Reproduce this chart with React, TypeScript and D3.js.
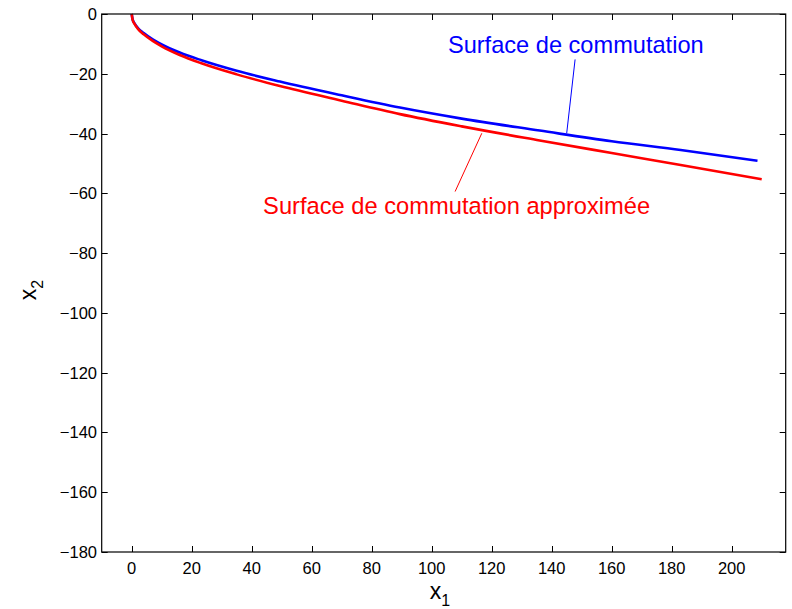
import React, { useRef, useEffect } from "react";
import * as d3 from "d3";

const blueX = [0, 0.3, 1, 2, 4, 7, 10, 16, 23, 35, 49.4, 70, 89.4, 110, 136, 160, 183, 208.6];
const blueY = [0, -1.8, -3.2, -4.6, -6.4, -8.5, -10.2, -12.9, -15.4, -19.0, -22.6, -27.2, -31.3, -35.0, -39.0, -42.6, -45.5, -49.1];
const redX = [0, 0.3, 1, 2, 4, 7, 10, 16, 23, 35, 49.4, 70, 89.4, 110, 136, 160, 183, 210];
const redY = [0, -1.9, -3.4, -4.9, -6.8, -9.0, -10.8, -13.7, -16.4, -20.2, -24.1, -29.0, -33.5, -37.6, -42.3, -46.5, -50.5, -55.3];

const xTicks = [0, 20, 40, 60, 80, 100, 120, 140, 160, 180, 200];
const yTicks = [0, -20, -40, -60, -80, -100, -120, -140, -160, -180];

const blueLabel = "Surface de commutation";
const redLabel = "Surface de commutation approximée";

const W = 792;
const H = 609;
const FONT = "'Liberation Sans', Arial, Helvetica, sans-serif";

export default function App() {
  const svgRef = useRef<SVGSVGElement>(null);

  useEffect(() => {
    const svg = d3.select(svgRef.current);
    svg.selectAll("*").remove();

    const left = 101.7, right = 785.7, top = 14, bottom = 552;
    const x = d3.scaleLinear().domain([-10, 218]).range([left, right]);
    const y = d3.scaleLinear().domain([-180, 0]).range([bottom, top]);

    svg.append("rect").attr("width", W).attr("height", H).attr("fill", "#fff");

    // ticks (inward, on all four sides like matlab's box)
    const tl = 6;
    const g = svg.append("g").attr("stroke", "#000").attr("stroke-width", 1);
    xTicks.forEach((t) => {
      const px = Math.round(x(t)) + 0.5;
      g.append("line").attr("x1", px).attr("x2", px).attr("y1", bottom).attr("y2", bottom - tl);
      g.append("line").attr("x1", px).attr("x2", px).attr("y1", top).attr("y2", top + tl);
    });
    yTicks.forEach((t) => {
      const py = Math.round(y(t)) + 0.5;
      g.append("line").attr("x1", left).attr("x2", left + tl).attr("y1", py).attr("y2", py);
      g.append("line").attr("x1", right).attr("x2", right - tl).attr("y1", py).attr("y2", py);
    });

    // tick labels
    svg
      .append("g")
      .selectAll("text")
      .data(xTicks)
      .enter()
      .append("text")
      .attr("x", (d) => x(d))
      .attr("y", 574)
      .attr("text-anchor", "middle")
      .attr("font-family", FONT)
      .attr("font-size", 16.5)
      .text((d) => String(d));

    svg
      .append("g")
      .selectAll("text")
      .data(yTicks)
      .enter()
      .append("text")
      .attr("x", 97)
      .attr("y", (d) => y(d) + 6)
      .attr("text-anchor", "end")
      .attr("font-family", FONT)
      .attr("font-size", 16.5)
      .text((d) => (d < 0 ? "\u2212" + Math.abs(d) : String(d)));

    // curves
    const line = d3
      .line<[number, number]>()
      .x((d) => x(d[0]))
      .y((d) => y(d[1]))
      .curve(d3.curveMonotoneX);

    const blue = blueX.map((v, i) => [v, blueY[i]] as [number, number]);
    const red = redX.map((v, i) => [v, redY[i]] as [number, number]);

    svg.append("path").attr("d", line(blue)).attr("fill", "none").attr("stroke", "#0000ff").attr("stroke-width", 2.6);
    svg.append("path").attr("d", line(red)).attr("fill", "none").attr("stroke", "#ff0000").attr("stroke-width", 2.6);

    // annotations
    svg.append("line")
      .attr("x1", x(147.8)).attr("y1", y(-15.2))
      .attr("x2", x(145)).attr("y2", y(-39.9))
      .attr("stroke", "#0000ff").attr("stroke-width", 1);
    svg.append("line")
      .attr("x1", x(116.7)).attr("y1", y(-39.9))
      .attr("x2", x(107.8)).attr("y2", y(-59.4))
      .attr("stroke", "#ff0000").attr("stroke-width", 1);

    svg.append("text")
      .attr("x", x(105.4)).attr("y", y(-13.1))
      .attr("font-family", FONT).attr("font-size", 23.6)
      .attr("fill", "#0000ff")
      .text(blueLabel);
    svg.append("text")
      .attr("x", x(43.8)).attr("y", y(-66.9))
      .attr("font-family", FONT).attr("font-size", 23.7)
      .attr("fill", "#ff0000")
      .text(redLabel);

    // axes box
    svg.append("rect")
      .attr("x", left).attr("y", top)
      .attr("width", right - left).attr("height", bottom - top)
      .attr("fill", "none").attr("stroke", "#000").attr("stroke-width", 1.2);

    // axis labels
    const xl = svg.append("text")
      .attr("x", 440).attr("y", 599)
      .attr("text-anchor", "middle")
      .attr("font-family", FONT).attr("font-size", 23);
    xl.append("tspan").text("x");
    xl.append("tspan").attr("font-size", 16).attr("dy", 7).text("1");

    const yl = svg.append("text")
      .attr("transform", "translate(36,290) rotate(-90)")
      .attr("text-anchor", "middle")
      .attr("font-family", FONT).attr("font-size", 23);
    yl.append("tspan").text("x");
    yl.append("tspan").attr("font-size", 16).attr("dy", 7).text("2");
  }, []);

  return (
    <svg
      ref={svgRef}
      width={W}
      height={H}
      viewBox={`0 0 ${W} ${H}`}
      style={{ display: "block", position: "absolute", left: 0, top: 0 }}
    />
  );
}
